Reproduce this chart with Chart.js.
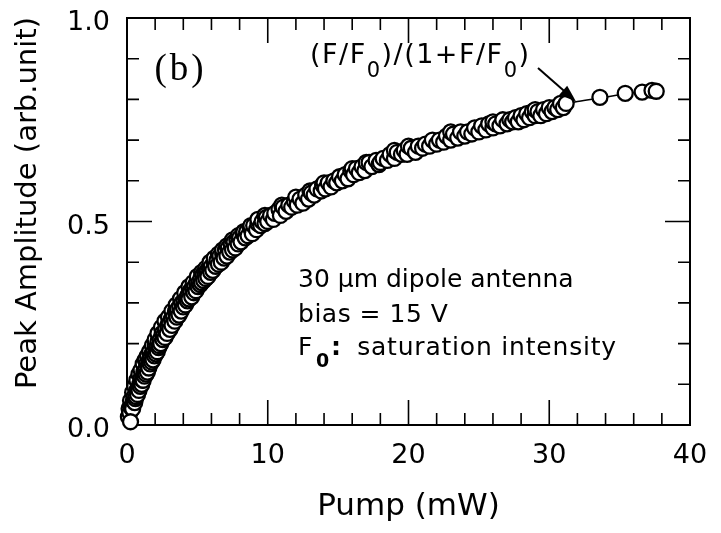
<!DOCTYPE html>
<html>
<head>
<meta charset="utf-8">
<script src="https://cdn.jsdelivr.net/npm/chart.js@4.4.0/dist/chart.umd.min.js"></script>
<style>
  html, body { margin: 0; padding: 0; background: #fff; }
</style>
</head>
<body>
<canvas id="sat" width="721" height="533"></canvas>
<script>
const pumpMw = [
  0.1, 0.2, 0.3, 0.35, 0.45, 0.5, 0.6, 0.7, 0.8, 0.9,
  1.0, 1.1, 1.2, 1.3, 1.4, 1.5, 1.6, 1.7, 1.8, 1.9,
  2.0, 2.1, 2.2, 2.35, 2.5, 2.6, 2.75, 2.9, 3.0, 3.15,
  3.3, 3.45, 3.6, 3.75, 3.9, 4.05, 4.2, 4.35, 4.5, 4.65,
  4.8, 4.95, 5.1, 5.25, 5.4, 5.55, 5.7, 5.85, 6.0, 6.2,
  6.4, 6.6, 6.8, 7.0, 7.2, 7.4, 7.6, 7.8, 8.0, 8.25,
  8.5, 8.75, 9.0, 9.3, 9.6, 9.9, 10.2, 10.5, 10.8, 11.1,
  11.5, 11.9, 12.3, 12.7, 13.1, 13.5, 13.9, 14.3, 14.7, 15.1,
  15.5, 15.9, 16.3, 16.7, 17.2, 17.7, 18.2, 18.7, 19.2, 19.7,
  20.2, 20.7, 21.2, 21.7, 22.2, 22.7, 23.2, 23.7, 24.2, 24.7,
  25.2, 25.7, 26.2, 26.7, 27.2, 27.6, 28.0, 28.4, 28.8, 29.2,
  29.6, 30.0, 30.4, 30.8, 31.2, 33.6, 35.4, 36.6, 37.3, 37.6,
  1.25, 2.3, 3.5, 4.4, 5.3, 6.3, 7.3, 8.6, 10.0, 11.3,
  12.5, 13.8, 15.3, 16.5, 18.0, 19.5, 21.0, 22.5, 24.0, 25.5,
  27.0, 28.6, 30.2,
  0.4, 0.55, 0.65, 0.75, 0.85, 0.95, 1.05, 1.15, 1.35, 1.45,
  1.55, 1.65, 1.75, 1.85, 1.95, 2.05, 2.15, 2.25, 2.4, 2.55,
  2.7, 2.85, 3.05, 3.2, 3.4, 3.55, 3.7, 3.85, 4.0, 4.15,
  4.3, 4.6, 4.75, 4.9, 5.05, 5.2, 5.45, 5.6, 5.75, 5.95,
  6.1, 6.5, 6.7, 6.9, 7.1, 7.5, 7.7, 7.9, 8.1, 8.4,
  8.9, 9.2, 9.5, 9.8,
  0.15, 0.25, 0.4, 0.55, 0.7, 0.85, 1.0, 1.15, 1.3, 1.45,
  1.6, 1.8, 2.0, 2.2, 2.45, 2.7, 2.95, 3.2, 3.5, 3.8,
  4.1, 4.4, 4.7, 5.0, 5.3, 5.6, 5.9, 6.2, 6.5, 6.8,
  7.1, 7.5, 7.9, 8.3, 8.8, 9.3, 9.8,
  10.4, 10.9, 11.7, 12.1, 12.9, 13.3, 14.1, 14.5, 14.9, 15.7,
  16.1, 16.9, 17.4, 17.9, 18.5, 19.0, 19.9, 20.5, 21.5, 22.0,
  23.0, 23.5, 24.5, 25.0, 26.0, 26.5, 27.4, 27.8, 28.2, 29.0,
  29.4, 29.8, 30.6, 31.0,
  11.0, 12.0, 13.0, 14.0, 16.0, 17.0, 19.0, 20.0, 23.0, 26.0,
  29.0,
  0.25
];
const peakAmp = [
  0.02, 0.03, 0.045, 0.04, 0.06, 0.07, 0.065, 0.085, 0.09, 0.10,
  0.115, 0.11, 0.13, 0.135, 0.15, 0.145, 0.16, 0.17, 0.175, 0.18,
  0.195, 0.19, 0.205, 0.21, 0.225, 0.22, 0.235, 0.245, 0.25, 0.26,
  0.265, 0.28, 0.285, 0.29, 0.30, 0.305, 0.31, 0.32, 0.33, 0.335,
  0.34, 0.35, 0.35, 0.36, 0.37, 0.37, 0.38, 0.385, 0.39, 0.40,
  0.405, 0.415, 0.42, 0.43, 0.435, 0.445, 0.45, 0.455, 0.46, 0.47,
  0.475, 0.485, 0.49, 0.495, 0.50, 0.51, 0.515, 0.52, 0.53, 0.535,
  0.54, 0.55, 0.555, 0.565, 0.57, 0.58, 0.59, 0.595, 0.60, 0.61,
  0.615, 0.625, 0.63, 0.635, 0.645, 0.65, 0.655, 0.665, 0.67, 0.675,
  0.68, 0.685, 0.69, 0.70, 0.70, 0.71, 0.715, 0.72, 0.72, 0.73,
  0.735, 0.74, 0.74, 0.75, 0.75, 0.755, 0.76, 0.765, 0.77, 0.77,
  0.775, 0.78, 0.78, 0.79, 0.79, 0.805, 0.815, 0.818, 0.822, 0.82,
  0.12, 0.195, 0.27, 0.31, 0.35, 0.39, 0.425, 0.465, 0.50, 0.525,
  0.545, 0.575, 0.60, 0.62, 0.645, 0.665, 0.68, 0.695, 0.71, 0.725,
  0.74, 0.755, 0.77,
  0.04, 0.055, 0.07, 0.075, 0.085, 0.095, 0.10, 0.11, 0.125, 0.13,
  0.14, 0.15, 0.155, 0.16, 0.17, 0.175, 0.18, 0.19, 0.20, 0.21,
  0.215, 0.225, 0.235, 0.245, 0.255, 0.265, 0.27, 0.28, 0.29, 0.295,
  0.305, 0.315, 0.325, 0.33, 0.34, 0.345, 0.355, 0.36, 0.365, 0.375,
  0.38, 0.395, 0.40, 0.41, 0.415, 0.43, 0.435, 0.445, 0.45, 0.46,
  0.47, 0.48, 0.49, 0.495,
  0.04, 0.06, 0.08, 0.095, 0.11, 0.125, 0.135, 0.15, 0.16, 0.17,
  0.18, 0.195, 0.21, 0.225, 0.24, 0.255, 0.265, 0.28, 0.295, 0.31,
  0.325, 0.34, 0.35, 0.365, 0.375, 0.385, 0.40, 0.41, 0.42, 0.43,
  0.44, 0.455, 0.465, 0.475, 0.49, 0.505, 0.515,
  0.505, 0.515, 0.535, 0.54, 0.555, 0.565, 0.58, 0.585, 0.595, 0.605,
  0.615, 0.625, 0.635, 0.64, 0.65, 0.655, 0.665, 0.67, 0.685, 0.69,
  0.70, 0.705, 0.715, 0.72, 0.73, 0.735, 0.745, 0.745, 0.75, 0.76,
  0.76, 0.765, 0.775, 0.78,
  0.54, 0.56, 0.575, 0.595, 0.63, 0.645, 0.675, 0.685, 0.72, 0.745,
  0.775,
  0.008
];

// fitted (F/F0)/(1+F/F0) curve
const fitPump = [0, 0.5, 1, 1.5, 2, 3, 4, 5, 6, 7, 8, 9, 10, 12, 14, 16, 18, 20, 22, 24, 26, 28, 30, 32, 34, 36, 37.8];
const fitAmp = [0, 0.06, 0.11, 0.15, 0.19, 0.25, 0.30, 0.35, 0.39, 0.43, 0.46, 0.49, 0.51, 0.55, 0.59, 0.625, 0.655, 0.68, 0.70, 0.72, 0.74, 0.76, 0.78, 0.795, 0.806, 0.817, 0.824];

const xTicks = [0, 10, 20, 30, 40];
const yTicks = [0.0, 0.5, 1.0];

const FONT = '"DejaVu Sans", sans-serif';

// points drawn left to right, origin circle on top
const points = pumpMw.map((v, i) => ({ x: v, y: peakAmp[i] }));
const origin = points.pop();
points.sort((a, b) => a.x - b.x);
points.push(origin);

// box with inward ticks on all four sides
const frame = {
  id: 'frame',
  beforeDatasetsDraw(chart) {
    const { ctx, chartArea: a, scales: { x, y } } = chart;
    ctx.save();
    ctx.strokeStyle = '#000';
    ctx.lineWidth = 1.6;
    ctx.beginPath();
    for (let i = 1; i < 20; i++) {
      const px = x.getPixelForValue(i * 2);
      const len = i % 5 === 0 ? 25 : 12;
      ctx.moveTo(px, a.bottom); ctx.lineTo(px, a.bottom - len);
      ctx.moveTo(px, a.top); ctx.lineTo(px, a.top + len);
    }
    for (let i = 1; i < 10; i++) {
      const py = y.getPixelForValue(i / 10);
      const len = i % 5 === 0 ? 25 : 12;
      ctx.moveTo(a.left, py); ctx.lineTo(a.left + len, py);
      ctx.moveTo(a.right, py); ctx.lineTo(a.right - len, py);
    }
    ctx.stroke();
    ctx.lineWidth = 2;
    ctx.strokeRect(a.left, a.top, a.right - a.left, a.bottom - a.top);
    ctx.restore();
  }
};

function runs(ctx, parts, x0, y0) {
  let px = x0;
  for (const p of parts) {
    ctx.font = p.font;
    ctx.fillText(p.t, px, y0 + (p.dy || 0));
    px += ctx.measureText(p.t).width;
  }
}

const notes = {
  id: 'notes',
  afterDatasetsDraw(chart) {
    const { ctx, scales: { x, y } } = chart;
    ctx.save();
    ctx.fillStyle = '#000';
    ctx.strokeStyle = '#000';
    ctx.textBaseline = 'alphabetic';

    ctx.letterSpacing = '3px';
    ctx.font = '37px "Liberation Serif", serif';
    ctx.fillText('(b)', x.getPixelForValue(1.95), y.getPixelForValue(0.848));

    const big = '27px ' + FONT, sub = '21px ' + FONT;
    ctx.letterSpacing = '1.5px';
    runs(ctx, [
      { t: '(F/F', font: big }, { t: '0', font: sub, dy: 14 },
      { t: ')/(1+F/F', font: big }, { t: '0', font: sub, dy: 14 },
      { t: ')', font: big }
    ], x.getPixelForValue(13.0), y.getPixelForValue(0.889));

    // arrow to the curve
    const x1 = x.getPixelForValue(29.2), y1 = y.getPixelForValue(0.877);
    const x2 = x.getPixelForValue(31.9), y2 = y.getPixelForValue(0.795);
    const ang = Math.atan2(y2 - y1, x2 - x1);
    ctx.lineWidth = 2;
    ctx.beginPath();
    ctx.moveTo(x1, y1); ctx.lineTo(x2 - 10 * Math.cos(ang), y2 - 10 * Math.sin(ang));
    ctx.stroke();
    ctx.beginPath();
    ctx.moveTo(x2, y2);
    ctx.lineTo(x2 - 17 * Math.cos(ang) + 6 * Math.sin(ang), y2 - 17 * Math.sin(ang) - 6 * Math.cos(ang));
    ctx.lineTo(x2 - 17 * Math.cos(ang) - 6 * Math.sin(ang), y2 - 17 * Math.sin(ang) + 6 * Math.cos(ang));
    ctx.closePath();
    ctx.fill();

    const txt = '25px ' + FONT;
    const lx = x.getPixelForValue(12.15);
    ctx.font = txt;
    ctx.letterSpacing = '0px';
    ctx.fillText('30 \u03bcm dipole antenna', lx, y.getPixelForValue(0.339));
    ctx.letterSpacing = '0.5px';
    ctx.fillText('bias = 15 V', lx, y.getPixelForValue(0.253));
    const by = y.getPixelForValue(0.172);
    ctx.fillText('F', lx, by);
    ctx.font = 'bold 19px ' + FONT;
    ctx.fillText('0', lx + 18, by + 12);
    ctx.font = 'bold 25px ' + FONT;
    ctx.fillText(':', lx + 33, by);
    ctx.font = txt;
    ctx.letterSpacing = '0.8px';
    ctx.fillText('saturation intensity', x.getPixelForValue(16.35), by);
    ctx.restore();
  }
};

new Chart(document.getElementById('sat'), {
  type: 'scatter',
  data: {
    datasets: [
      {
        label: 'data',
        data: points,
        pointStyle: 'circle',
        pointRadius: 7.5,
        backgroundColor: '#fff',
        borderColor: '#000',
        borderWidth: 2.3,
        clip: false
      },
      {
        label: 'fit',
        data: fitPump.map((v, i) => ({ x: v, y: fitAmp[i] })),
        showLine: true,
        pointRadius: 0,
        borderColor: '#000',
        borderWidth: 1.5,
        cubicInterpolationMode: 'monotone'
      }
    ]
  },
  options: {
    responsive: false,
    animation: false,
    layout: { padding: { top: 18, right: 31, left: 0, bottom: 0 } },
    plugins: { legend: { display: false }, tooltip: { enabled: false } },
    scales: {
      x: {
        type: 'linear', min: 0, max: 40,
        afterFit: s => { s.height = 108; s.paddingLeft = 0; s.paddingRight = 0; },
        afterBuildTicks: s => { s.ticks = xTicks.map(v => ({ value: v })); },
        grid: { display: false }, border: { display: false },
        ticks: { color: '#000', font: { family: FONT, size: 27 }, padding: 7, maxRotation: 0, autoSkip: false },
        title: { display: true, text: 'Pump (mW)', color: '#000', font: { family: FONT, size: 31 }, padding: { top: 0, bottom: 7 } }
      },
      y: {
        type: 'linear', min: 0, max: 1,
        afterFit: s => { s.width = 127; s.paddingTop = 0; s.paddingBottom = 0; },
        afterBuildTicks: s => { s.ticks = yTicks.map(v => ({ value: v })); },
        grid: { display: false }, border: { display: false },
        ticks: { color: '#000', font: { family: FONT, size: 27 }, padding: 9, labelOffset: 5, callback: v => v.toFixed(1) },
        title: { display: true, text: '    Peak Amplitude (arb.unit)', color: '#000', font: { family: FONT, size: 29 }, padding: { top: 11, bottom: 0 } }
      }
    }
  },
  plugins: [frame, notes]
});
</script>
</body>
</html>
